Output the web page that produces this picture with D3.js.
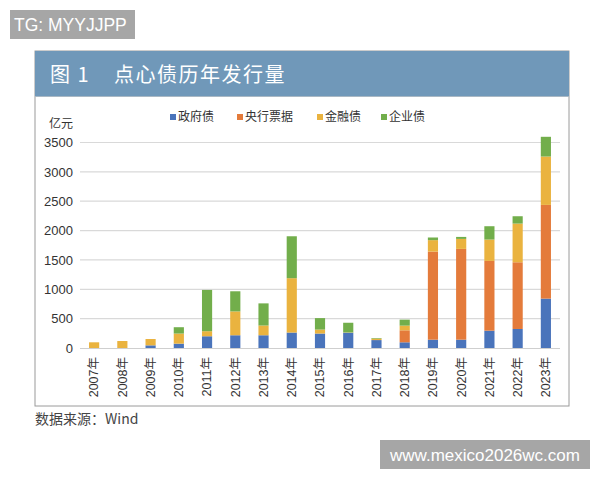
<!DOCTYPE html>
<html>
<head>
<meta charset="utf-8">
<script src="https://cdn.jsdelivr.net/npm/d3@7"></script>
<style>
  body { margin: 0; background: #fff; }
  svg { font-family: "Liberation Sans", "Noto Sans CJK SC", sans-serif; }
</style>
</head>
<body>
<svg id="chart" width="600" height="480"></svg>
<script>
// Data (亿元)
const years = ["2007年","2008年","2009年","2010年","2011年","2012年","2013年","2014年","2015年","2016年","2017年","2018年","2019年","2020年","2021年","2022年","2023年"];
const seriesNames = ["政府债", "央行票据", "金融债", "企业债"];
const govBonds  = [0, 0, 45, 74, 200, 217, 217, 263, 246, 260, 135, 97, 142, 142, 295, 324, 841];
const pbocBills = [0, 0, 0, 0, 0, 0, 0, 0, 0, 0, 0, 204, 1500, 1546, 1188, 1136, 1596];
const finBonds  = [97, 119, 108, 172, 86, 406, 166, 926, 68, 5, 25, 80, 195, 170, 364, 659, 824];
const corpBonds = [0, 0, 0, 108, 703, 343, 377, 714, 195, 165, 10, 102, 45, 34, 227, 125, 336];
const yTicks = [0, 500, 1000, 1500, 2000, 2500, 3000, 3500];
const colours = ["#4a74bb", "#e47b3b", "#eab33f", "#72ae4b"];

const rows = years.map((y, i) => ({
  year: y,
  "政府债": govBonds[i],
  "央行票据": pbocBills[i],
  "金融债": finBonds[i],
  "企业债": corpBonds[i]
}));

const svg = d3.select("#chart");
const cjk = '"Noto Sans CJK SC", sans-serif';

// watermark top-left
svg.append("rect").attr("x", 10).attr("y", 10).attr("width", 125).attr("height", 29).attr("fill", "#a6a6a6");
svg.append("text").attr("x", 14).attr("y", 31).attr("fill", "#fff")
  .style("font-size", "17.5px").text("TG: MYYJJPP");

// frame + title bar
svg.append("rect").attr("x", 35).attr("y", 51).attr("width", 534).attr("height", 355)
  .attr("fill", "#fff").attr("stroke", "#9a9a9a").attr("stroke-width", 1);
svg.append("rect").attr("x", 35).attr("y", 51).attr("width", 534).attr("height", 45).attr("fill", "#7098b9");
svg.append("line").attr("x1", 35).attr("x2", 569).attr("y1", 96.5).attr("y2", 96.5).attr("stroke", "#a9b8c4");
svg.append("text").attr("x", 50).attr("y", 82).attr("fill", "#fff")
  .style("font-family", cjk).style("font-size", "20px").style("letter-spacing", "1.5px")
  .style("white-space", "pre").attr("xml:space", "preserve")
  .text("图 1    点心债历年发行量");

// scales
const x = d3.scaleBand().domain(years).range([80, 560]).paddingInner(0.64).paddingOuter(0.32);
const y = d3.scaleLinear().domain([0, 3500]).range([348, 142.5]);
const colour = d3.scaleOrdinal().domain(seriesNames).range(colours);

// grid
svg.append("g").selectAll("line").data(yTicks.slice(1)).join("line")
  .attr("x1", 80).attr("x2", 560)
  .attr("y1", d => y(d)).attr("y2", d => y(d))
  .attr("stroke", "#d9d9d9").attr("stroke-width", 1.2);

// y axis labels
const yAxis = d3.axisLeft(y).tickValues(yTicks).tickFormat(d3.format("d")).tickSize(0).tickPadding(7);
svg.append("g").attr("transform", "translate(80,0)").call(yAxis)
  .call(g => g.select(".domain").remove())
  .selectAll("text").attr("fill", "#333").style("font-size", "13px")
  .style("font-family", '"Liberation Sans", sans-serif');
svg.append("text").attr("x", 73).attr("y", 128).attr("text-anchor", "end")
  .attr("fill", "#333").style("font-family", cjk).style("font-size", "12px").text("亿元");

// stacked bars
const stacked = d3.stack().keys(seriesNames)(rows);
svg.append("g").selectAll("g").data(stacked).join("g")
  .attr("fill", d => colour(d.key))
  .selectAll("rect").data(d => d).join("rect")
  .attr("x", d => x(d.data.year))
  .attr("width", x.bandwidth())
  .attr("y", d => y(d[1]))
  .attr("height", d => y(d[0]) - y(d[1]));

// x axis
const xAxis = d3.axisBottom(x).tickSize(0).tickPadding(0);
const xg = svg.append("g").attr("transform", "translate(0,348)").call(xAxis);
xg.select(".domain").attr("stroke", "#cfcfcf").attr("stroke-width", 1.2).attr("d", "M80,0.5H560");
xg.selectAll("text")
  .attr("transform", "rotate(-90)")
  .attr("text-anchor", "end")
  .attr("x", -9).attr("y", 0).attr("dy", "0.35em")
  .attr("fill", "#333").style("font-size", "12.5px")
  .style("font-family", '"Liberation Sans", "Noto Sans CJK SC", sans-serif');

// legend
const legendX = [170, 237, 317, 381];
const legend = svg.append("g").selectAll("g").data(seriesNames).join("g")
  .attr("transform", (d, i) => `translate(${legendX[i]},117)`);
legend.append("rect").attr("x", 0).attr("y", -3).attr("width", 6).attr("height", 6)
  .attr("fill", d => colour(d));
legend.append("text").attr("x", 8).attr("dy", "0.35em").attr("fill", "#333")
  .style("font-family", cjk).style("font-size", "12px").text(d => d);

// source note
svg.append("text").attr("x", 35).attr("y", 424).attr("fill", "#444")
  .style("font-family", cjk).style("font-size", "14px").text("数据来源：Wind");

// watermark bottom-right
svg.append("rect").attr("x", 380).attr("y", 440).attr("width", 210).attr("height", 29).attr("fill", "#a6a6a6");
svg.append("text").attr("x", 485).attr("y", 461).attr("text-anchor", "middle").attr("fill", "#fff")
  .style("font-size", "17px").text("www.mexico2026wc.com");
</script>
</body>
</html>
